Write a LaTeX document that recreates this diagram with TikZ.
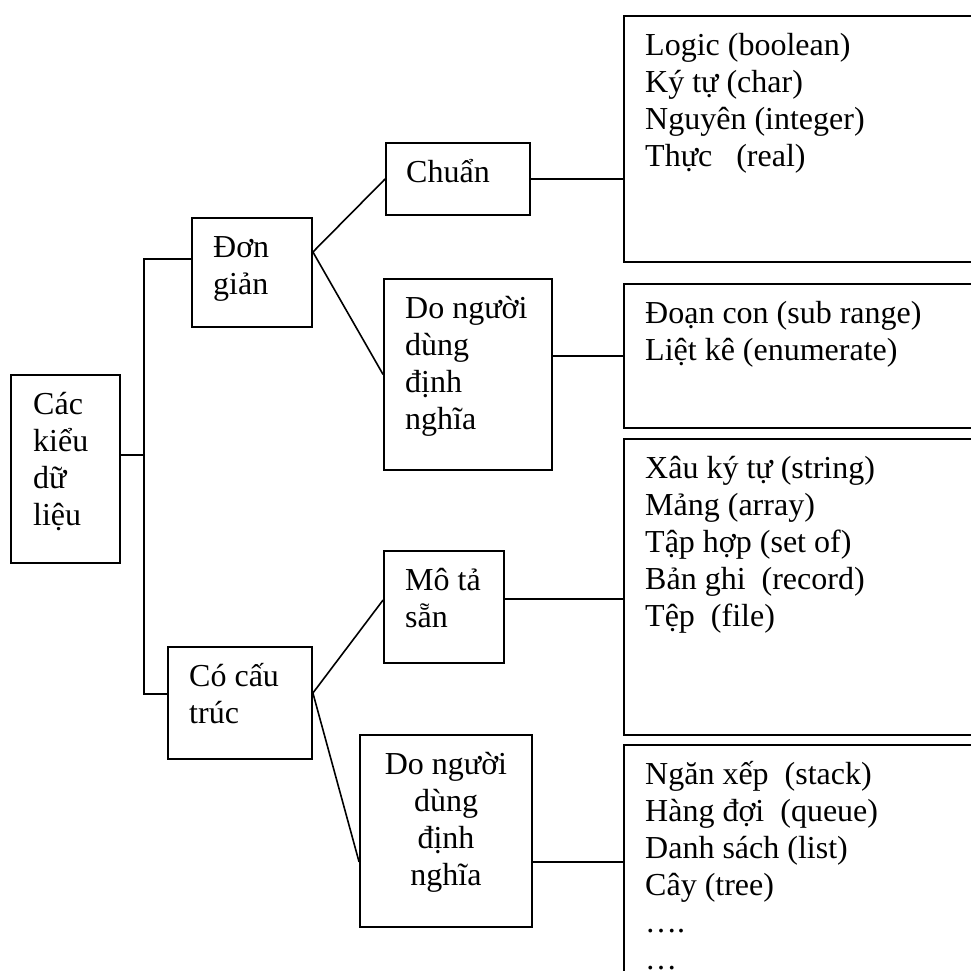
\documentclass[tikz,border=0pt]{standalone}
\usepackage{fontspec}
\setmainfont{Liberation Serif}
\newcommand{\cellfont}{\fontsize{32}{37}\selectfont}

\begin{document}
\begin{tikzpicture}[x=1pt,y=-1pt,
     box/.style={draw,line width=1.8pt,inner sep=0pt},
     lbl/.style={anchor=base west,align=left,inner sep=0pt,font=\cellfont},
     clbl/.style={anchor=base,align=center,inner sep=0pt,font=\cellfont},
     wire/.style={line width=1.6pt}]
    \useasboundingbox (0,0) rectangle (971,970);
    \clip (0,0) rectangle (971,970);
    % boxes of the tree
    \node[box,minimum width=109pt,minimum height=188pt] (root) at (65.5,469) {};
    \node[box,minimum width=120pt,minimum height=109pt] (don) at (252,272.5) {};
    \node[box,minimum width=144pt,minimum height=112pt] (cocau) at (240,703) {};
    \node[box,minimum width=144pt,minimum height=72pt] (chuan) at (458,179) {};
    \node[box,minimum width=168pt,minimum height=191pt] (dn1) at (468,374.5) {};
    \node[box,minimum width=120pt,minimum height=112pt] (mota) at (444,607) {};
    \node[box,minimum width=172pt,minimum height=192pt] (dn2) at (446,831) {};
    \node[box,minimum width=376pt,minimum height=246pt] (r1) at (812,139) {};
    \node[box,minimum width=376pt,minimum height=144pt] (r2) at (812,356) {};
    \node[box,minimum width=376pt,minimum height=296pt] (r3) at (812,587) {};
    \node[box,minimum width=376pt,minimum height=234pt] (r4) at (812,862) {};
    % texts (placed at the baseline of their last line)
    \node[lbl] (root-t) at (33,525) {Các\\kiểu\\dữ\\liệu};
    \node[lbl] (don-t) at (213,294) {Đơn\\giản};
    \node[lbl] (cocau-t) at (189,723) {Có cấu\\trúc};
    \node[lbl] (chuan-t) at (406,182) {Chuẩn};
    \node[lbl] (dn1-t) at (405,429) {Do người\\dùng\\định\\nghĩa};
    \node[lbl] (mota-t) at (405,627) {Mô tả\\sẵn};
    \node[clbl] (dn2-t) at (446,885) {Do người\\dùng\\định\\nghĩa};
    \node[lbl] (r1-t) at (645,166) {Logic (boolean)\\Ký tự (char)\\Nguyên (integer)\\Thực~~~(real)};
    \node[lbl] (r2-t) at (645,360) {Đoạn con (sub range)\\Liệt kê (enumerate)};
    \node[lbl] (r3-t) at (645,626) {Xâu ký tự (string)\\Mảng (array)\\Tập hợp (set of)\\Bản ghi~~(record)\\Tệp~~(file)};
    \node[lbl] (r4-t) at (645,969) {Ngăn xếp~~(stack)\\Hàng đợi~~(queue)\\Danh sách (list)\\Cây (tree)\\….\\…};
    % connectors
    \coordinate (j) at (144,455);
    \coordinate (f1) at ([yshift=20.5pt]don.east);
    \coordinate (f2) at ([yshift=10pt]cocau.east);
    \coordinate (m1) at ([yshift=8pt]mota.east);
    \coordinate (d2) at ([yshift=-31pt]dn2.west);
    \draw[wire] ([yshift=14pt]root.east) -- (j);
    \draw[wire] ([yshift=13.5pt]don.west) -| (j) |- ([yshift=9pt]cocau.west);
    \draw[wire] (chuan.west) -- (f1) -- (dn1.west);
    \draw[wire] ([yshift=7pt]mota.west) -- (f2) -- (d2);
    \draw[wire] (chuan.east) -- (chuan.east -| r1.west);
    \draw[wire] (r2.west -| dn1.east) -- (r2.west);
    \draw[wire] (m1) -- (m1 -| r3.west);
    \draw[wire] (d2 -| dn2.east) -- (r4.west);
\end{tikzpicture}
\end{document}
